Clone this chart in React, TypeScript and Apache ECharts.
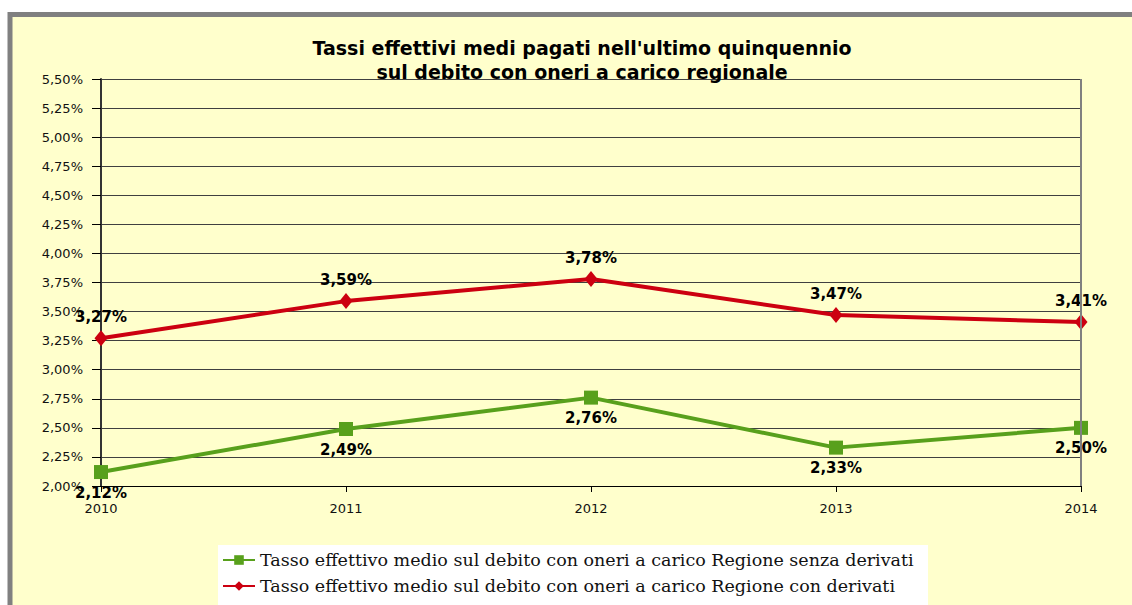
import React, { useEffect, useRef } from "react";
import * as echarts from "echarts";

const years = ["2010", "2011", "2012", "2013", "2014"];
const senzaDerivati = [2.12, 2.49, 2.76, 2.33, 2.5];
const conDerivati = [3.27, 3.59, 3.78, 3.47, 3.41];
const seriesNames = [
  "Tasso effettivo medio sul debito con oneri a carico Regione senza derivati",
  "Tasso effettivo medio sul debito con oneri a carico Regione con derivati",
];
const titleLines = [
  "Tassi effettivi medi pagati nell'ultimo quinquennio",
  "sul debito con oneri a carico regionale",
];

const fmt = (v: number) => v.toFixed(2).replace(".", ",") + "%";
const SANS = "'DejaVu Sans', Verdana, sans-serif";
const SERIF = "'DejaVu Serif', 'Liberation Serif', serif";

export default function App() {
  const ref = useRef<HTMLDivElement>(null);
  useEffect(() => {
    if (!ref.current) return;
    const chart = echarts.init(ref.current, undefined, { renderer: "svg" });
    const labelStyle = {
      show: true,
      fontFamily: SANS,
      fontWeight: "bold" as const,
      fontSize: 15,
      color: "#000",
      formatter: (p: any) => fmt(p.value),
    };
    chart.setOption({
      animation: false,
      backgroundColor: "#fff",
      graphic: [
        {
          type: "rect",
          shape: { x: 10, y: 14.5, width: 1200, height: 700 },
          style: { fill: "#FFFFCC", stroke: "#808080", lineWidth: 5 },
          z: -10,
        },
        {
          type: "rect",
          shape: { x: 218, y: 545, width: 710, height: 80 },
          style: { fill: "#FFFFFF" },
          z: -5,
        },
      ],
      title: {
        text: titleLines.join("\n"),
        left: 577,
        textAlign: "center",
        top: 31,
        textStyle: {
          fontFamily: SANS,
          fontWeight: "bold",
          fontSize: 19,
          lineHeight: 24,
          color: "#000",
        },
      },
      legend: {
        orient: "vertical",
        left: 222,
        top: 551,
        padding: 0,
        itemGap: 8,
        itemWidth: 32,
        itemHeight: 12,
        textStyle: {
          fontFamily: SERIF,
          fontSize: 17.5,
          color: "#111",
        },
        data: seriesNames,
      },
      grid: { left: 101, right: 51, top: 79, bottom: 119, containLabel: false },
      xAxis: {
        type: "category",
        data: years,
        boundaryGap: false,
        axisLine: { lineStyle: { color: "#000", width: 1 } },
        axisTick: { show: true, length: 6, inside: false, lineStyle: { color: "#000" } },
        axisLabel: {
          fontFamily: SANS,
          fontSize: 13,
          color: "#111",
          margin: 16,
        },
        splitLine: { show: false },
      },
      yAxis: {
        type: "value",
        min: 2,
        max: 5.5,
        interval: 0.25,
        axisLine: { show: true, lineStyle: { color: "#333", width: 2 } },
        axisTick: { show: true, length: 9, lineStyle: { color: "#000" } },
        axisLabel: {
          fontFamily: SANS,
          fontSize: 13,
          color: "#111",
          margin: 18,
          formatter: (v: number) => fmt(v),
        },
        splitLine: { show: true, lineStyle: { color: "#404040", width: 1 } },
      },
      series: [
        {
          name: seriesNames[0],
          type: "line",
          data: senzaDerivati,
          symbol: "rect",
          symbolSize: 14,
          lineStyle: { color: "#58A01C", width: 4 },
          itemStyle: { color: "#58A01C" },
          label: { ...labelStyle, position: "bottom", distance: 6 },
          z: 3,
        },
        {
          name: seriesNames[1],
          type: "line",
          data: conDerivati,
          symbol: "diamond",
          symbolSize: [13, 16],
          lineStyle: { color: "#CC0010", width: 4 },
          itemStyle: { color: "#CC0010" },
          label: { ...labelStyle, position: "top", distance: 6 },
          z: 3,
        },
        {
          type: "line",
          data: [],
          markLine: {
            silent: true,
            symbol: "none",
            label: { show: false },
            lineStyle: { color: "#808080", width: 2, type: "solid" },
            data: [[{ xAxis: "2014", yAxis: 2 }, { xAxis: "2014", yAxis: 5.5 }]],
          },
        },
      ],
    });
    return () => chart.dispose();
  }, []);
  return (
    <div
      ref={ref}
      style={{ position: "fixed", left: 0, top: 0, width: 1132, height: 605 }}
    />
  );
}
